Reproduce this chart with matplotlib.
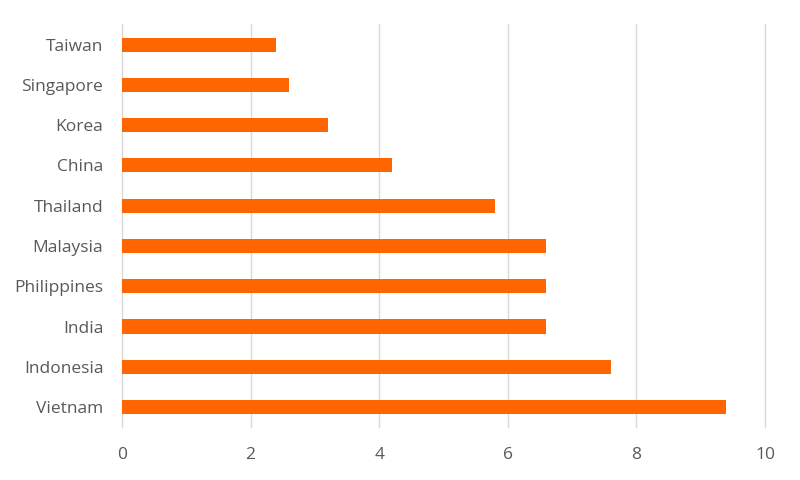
import matplotlib
matplotlib.use('Agg')
import matplotlib.pyplot as plt

countries = ['Vietnam', 'Indonesia', 'India', 'Philippines', 'Malaysia',
             'Thailand', 'China', 'Korea', 'Singapore', 'Taiwan']
values = [9.4, 7.6, 6.6, 6.6, 6.6, 5.8, 4.2, 3.2, 2.6, 2.4]
xticks = [0, 2, 4, 6, 8, 10]

plt.rcParams['font.family'] = ['Open Sans', 'DejaVu Sans']

fig = plt.figure(figsize=(8, 4.8), dpi=100)
ax = fig.add_axes([0.1525, 0.110, 0.8038, 0.839])

ax.barh(range(len(countries)), values, height=0.35, color='#ff6600', zorder=3)

ax.set_xlim(0, 10)
ax.set_ylim(-0.5, len(countries) - 0.5)
ax.set_yticks(range(len(countries)))
ax.set_yticklabels(countries)
ax.set_xticks(xticks)
ax.set_xticklabels([str(t) for t in xticks])

ax.grid(axis='x', color='#d9d9d9', linewidth=1, zorder=0)
for gl in ax.get_xgridlines():
    gl.set_clip_on(False)
for s in ax.spines.values():
    s.set_visible(False)
ax.tick_params(length=0, labelsize=12.5, colors='#595959')
ax.tick_params(axis='y', pad=13.5)
ax.tick_params(axis='x', pad=14)

fig.savefig('out.png', dpi=100)
